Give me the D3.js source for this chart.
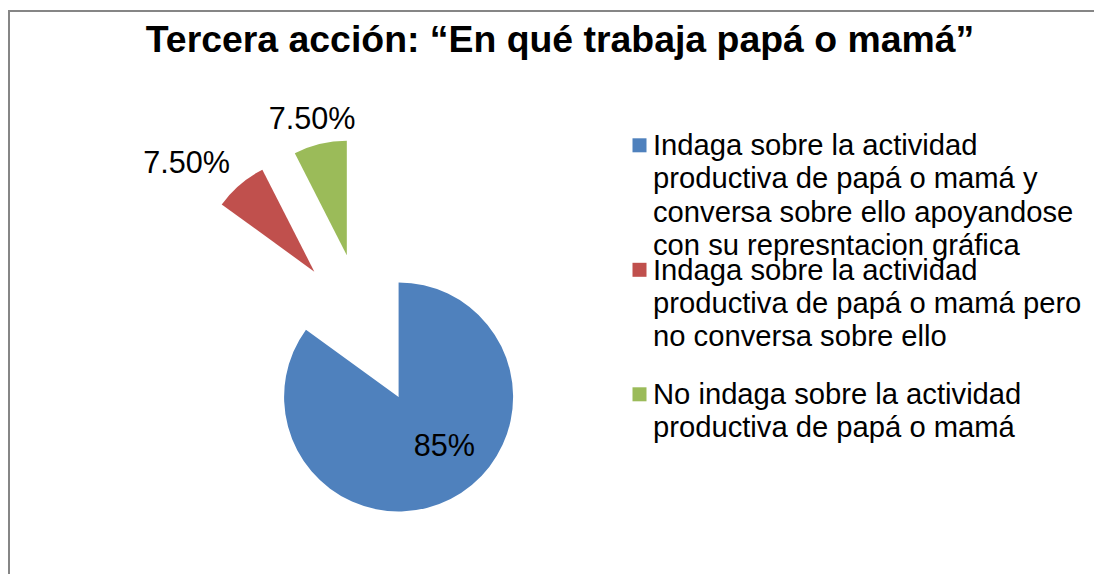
<!doctype html>
<html lang="es">
  <head>
    <meta charset="utf-8">
    <title>Tercera acción</title>
    <script src="https://d3js.org/d3.v7.min.js"></script>
    <style>
      html, body { margin: 0; padding: 0; background: #fff; overflow: hidden; }
      svg { display: block; font-family: "Liberation Sans", Arial, sans-serif; }
    </style>
  </head>
  <body>
    <div id="chart"></div>
  <script>
    // data
    const categories = [
      'Indaga sobre la actividad productiva de papá o mamá y conversa sobre ello apoyandose con su represntacion gráfica',
      'Indaga sobre la actividad productiva de papá o mamá pero no conversa sobre ello',
      'No indaga sobre la actividad productiva de papá o mamá'
    ];
    const values = [85, 7.5, 7.5];
    const valueLabels = ['85%', '7.50%', '7.50%'];
    const colors = ['#4F81BD', '#C0504D', '#9BBB59'];

    const w = 1094, h = 574;
    const center = { x: 365, y: 331 };
    const radius = 114.5;
    const explode = [74, 78, 78];

    const svg = d3.select('#chart')
      .append('svg')
      .attr('width', w)
      .attr('height', h);

    // chart frame (only left and top edges are visible)
    svg.append('path')
      .attr('d', 'M9,' + h + 'V11H' + w)
      .attr('fill', 'none')
      .attr('stroke', '#868686')
      .attr('stroke-width', 2);

    // title
    svg.append('text')
      .attr('x', 560)
      .attr('y', 52)
      .attr('text-anchor', 'middle')
      .attr('font-size', '37.4px')
      .attr('font-weight', 'bold')
      .attr('fill', '#000')
      .text('Tercera acción: “En qué trabaja papá o mamá”');

    const pie = d3.pie().sort(null).value(d => d);
    const arcs = pie(values);
    const arc = d3.arc().innerRadius(0).outerRadius(radius);

    const slices = svg.append('g')
      .attr('transform', 'translate(' + center.x + ',' + center.y + ')')
      .selectAll('g')
      .data(arcs)
      .enter()
      .append('g')
      .attr('transform', (d, i) => {
        const mid = (d.startAngle + d.endAngle) / 2;
        return 'translate(' + (Math.sin(mid) * explode[i]) + ',' + (-Math.cos(mid) * explode[i]) + ')';
      });

    slices.append('path')
      .attr('d', arc)
      .attr('fill', (d, i) => colors[i]);

    // data labels
    slices.append('text')
      .attr('font-size', '30.6px')
      .attr('fill', '#000')
      .each(function(d, i) {
        const t = d3.select(this).text(valueLabels[i]);
        const mid = (d.startAngle + d.endAngle) / 2;
        if (d.endAngle - d.startAngle > Math.PI) {
          // big slice: label inside
          const a = mid - 16.5 * Math.PI / 180;
          const r = radius * 0.58;
          t.attr('x', Math.sin(a) * r)
            .attr('y', -Math.cos(a) * r)
            .attr('dy', '0.36em')
            .attr('text-anchor', 'middle');
        } else {
          // small slices: label outside end, box shifted away from the slice
          const r = radius + 15.5;
          const s = Math.sin(mid);
          const tw = this.getComputedTextLength();
          const k = Math.min(1, Math.max(0, 0.5 - 4 * s * s * s));
          t.attr('x', s * r - tw * k)
            .attr('y', -Math.cos(mid) * r)
            .attr('text-anchor', 'start');
        }
      });

    // legend
    const legendY = d3.scalePoint()
      .domain(categories)
      .range([155, 404]);
    const legendX = 632.5;
    const legendTextX = 653;
    const wrapWidth = 436;
    const lineHeight = 33.4;

    const legend = svg.append('g')
      .selectAll('g')
      .data(categories)
      .enter()
      .append('g')
      .attr('transform', d => 'translate(0,' + legendY(d) + ')');

    legend.append('rect')
      .attr('x', legendX)
      .attr('y', -16.7)
      .attr('width', 14)
      .attr('height', 14)
      .attr('fill', (d, i) => colors[i]);

    legend.append('text')
      .attr('x', legendTextX)
      .attr('y', 0)
      .attr('font-size', '29.2px')
      .attr('fill', '#000')
      .each(function(d) {
        const t = d3.select(this);
        const words = d.split(' ');
        let line = [];
        let lineNo = 0;
        let tspan = t.append('tspan').attr('x', legendTextX).attr('y', 0);
        words.forEach(word => {
          line.push(word);
          tspan.text(line.join(' '));
          if (tspan.node().getComputedTextLength() > wrapWidth && line.length > 1) {
            line.pop();
            tspan.text(line.join(' '));
            line = [word];
            lineNo++;
            tspan = t.append('tspan')
              .attr('x', legendTextX)
              .attr('y', lineNo * lineHeight)
              .text(word);
          }
        });
      });
  </script>
  </body>
</html>
